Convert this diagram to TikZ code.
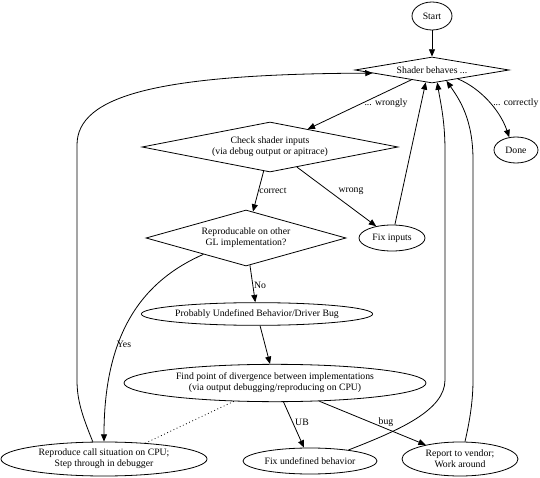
\documentclass[tikz,border=0pt]{standalone}
\usepackage{fontspec}
\setmainfont{Liberation Serif}
\usetikzlibrary{shapes.geometric,arrows.meta}
\begin{document}
\begin{tikzpicture}[x=0.75pt,y=-0.75pt,
  every node/.style={font=\fontsize{7.3}{8.3}\selectfont, align=center, inner sep=0pt},
  ell/.style={draw, ellipse, line width=0.6pt},
  dia/.style={draw, diamond, aspect=5, line width=0.6pt},
  conn/.style={draw, line width=0.6pt, -{Triangle[length=5.5pt,width=4.5pt]}},
  plain/.style={draw, line width=0.6pt}]
\useasboundingbox (0,0) rectangle (540,478);
% nodes
\node[ell, minimum width=30pt, minimum height=21pt] (start) at (432,16) {Start};
\node[dia, minimum width=115.5pt, minimum height=19.5pt] (shader) at (432,70) {Shader behaves ...};
\node[ell, minimum width=33pt, minimum height=19.5pt] (done) at (516,150) {Done};
\node[dia, minimum width=192pt, minimum height=37.5pt] (check) at (270,147) {Check shader inputs\\(via debug output or apitrace)};
\node[dia, minimum width=150pt, minimum height=42pt] (gl) at (246,238) {Reproducable on other\\GL implementation?};
\node[ell, minimum width=49.5pt, minimum height=19.5pt] (fixin) at (392,238) {Fix inputs};
\node[ell, minimum width=172.5pt, minimum height=17pt] (prob) at (257,314) {Probably Undefined Behavior/Driver Bug};
\node[ell, minimum width=226.5pt, minimum height=28pt] (find) at (275,383) {Find point of divergence between implementations\\(via output debugging/reproducing on CPU)};
\node[ell, minimum width=154.5pt, minimum height=25.5pt] (cpu) at (104,459) {Reproduce call situation on CPU;\\Step through in debugger};
\node[ell, minimum width=100.5pt, minimum height=19.5pt] (fixub) at (310,461) {Fix undefined behavior};
\node[ell, minimum width=87pt, minimum height=25.5pt] (report) at (460,459) {Report to vendor;\\Work around};
% labels
\node (lwrongly) at (386,103) {... wrongly};
\node[anchor=west] (lcorrectly) at (493,103) {... correctly};
\node (lcorrect) at (273,191) {correct};
\node (lwrong) at (351,191) {wrong};
\node (lno) at (260,285) {No};
\node (lyes) at (124,344) {Yes};
\node (lub) at (302,422) {UB};
\node (lbug) at (386,422) {bug};
% edges
\path[conn] (start) -- (shader);
\path[conn] (shader) -- (check);
\path[conn] (shader.-19) .. controls (480,88) and (500,110) .. (done.118);
\path[conn] (check) -- (gl);
\path[conn] (check) -- (fixin);
\path[conn] (fixin) -- (shader.-117);
\path[conn] (gl) -- (prob);
\path[conn] (gl.-159) .. controls (145,280) and (104,330) .. (cpu.north);
\path[conn] (prob) -- (find);
\path[plain, dotted] (find.204) -- (cpu.21);
\path[conn] (find) -- (fixub);
\path[conn] (find) -- (report);
\path[conn] (cpu.123) .. controls (82,415) and (77,400) .. (77,380) -- (77,145) .. controls (77,95) and (160,74) .. (shader.183);
\path[conn] (fixub.16) .. controls (400,430) and (445,410) .. (445,380) -- (445,150) .. controls (445,120) and (440,100) .. (shader.-67);
\path[conn] (report.74) .. controls (470,420) and (473,400) .. (473,380) -- (473,160) .. controls (473,120) and (460,100) .. (shader.-37);
\end{tikzpicture}
\end{document}
